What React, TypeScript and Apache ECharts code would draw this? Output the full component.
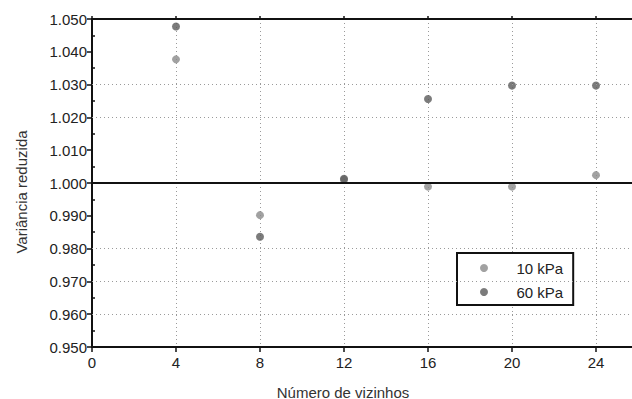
import React, { useEffect, useRef } from "react";
import * as echarts from "echarts";

const xValues = [4, 8, 12, 16, 20, 24];
const kpa10 = [1.0377, 0.9902, 1.001, 0.9989, 0.9989, 1.0024];
const kpa60 = [1.0477, 0.9836, 1.0013, 1.0256, 1.0297, 1.0297];
const seriesNames = ["10 kPa", "60 kPa"];
const dottedLevels = [1.03, 1.02, 0.98, 0.97, 0.96];
const referenceLevel = 1.0;
const xTitle = "Número de vizinhos";
const yTitle = "Variância reduzida";

const FONT = "'Liberation Sans', Arial, sans-serif";

export default function App() {
  const ref = useRef<HTMLDivElement>(null);
  useEffect(() => {
    if (!ref.current) return;
    const chart = echarts.init(ref.current, null, { renderer: "svg" });
    const pts = (ys: number[]) => xValues.map((x, i) => [x, ys[i]]);
    chart.setOption({
      animation: false,
      backgroundColor: "#ffffff",
      textStyle: { fontFamily: FONT },
      grid: {
        left: 92,
        top: 19,
        right: -48,
        bottom: 52,
        containLabel: false,
        outerBoundsMode: "none",
      },
      xAxis: [
        {
          type: "value",
          min: 0,
          max: 28,
          interval: 4,
          axisLine: { show: true, onZero: false, lineStyle: { color: "#111", width: 2 } },
          axisTick: { show: true, length: 5, lineStyle: { color: "#111", width: 1.5 } },
          axisLabel: {
            color: "#222",
            fontSize: 15,
            margin: 8,
            fontFamily: FONT,
            formatter: (v: number) => (v > 24 ? "" : String(v)),
          },
          splitLine: { show: true, lineStyle: { color: "#9a9a9a", type: [1, 3], width: 1 } },
        },
        {
          type: "value",
          position: "top",
          min: 0,
          max: 28,
          interval: 4,
          axisLine: { show: true, onZero: false, lineStyle: { color: "#111", width: 2 } },
          axisTick: { show: true, length: 3, lineStyle: { color: "#111", width: 1.5 } },
          axisLabel: { show: false },
          splitLine: { show: false },
        },
      ],
      yAxis: {
        type: "value",
        min: 0.95,
        max: 1.05,
        interval: 0.01,
        axisLine: { show: true, onZero: false, lineStyle: { color: "#111", width: 2 } },
        axisTick: { show: true, length: 5, lineStyle: { color: "#111", width: 1.5 } },
        minorTick: { show: true, splitNumber: 2, length: -3, lineStyle: { color: "#111", width: 1.5 } },
        axisLabel: {
          color: "#222",
          fontSize: 15,
          margin: 5,
          fontFamily: FONT,
          formatter: (v: number) => v.toFixed(3),
        },
        splitLine: { show: false },
      },
      legend: {
        data: seriesNames,
        orient: "vertical",
        left: 457,
        top: 253,
        backgroundColor: "#ffffff",
        borderColor: "#111",
        borderWidth: 2,
        borderRadius: 0,
        padding: [7, 10, 5, 23],
        itemWidth: 55,
        itemHeight: 8,
        itemGap: 8,
        icon: "circle",
        textStyle: { fontSize: 15, lineHeight: 16, color: "#222", fontFamily: FONT },
      },
      graphic: [
        {
          type: "text",
          x: 21,
          y: 192,
          rotation: Math.PI / 2,
          style: {
            text: yTitle,
            fill: "#333",
            font: `15px ${FONT}`,
            align: "center",
            verticalAlign: "middle",
          },
        },
        {
          type: "text",
          x: 343,
          y: 392,
          style: {
            text: xTitle,
            fill: "#333",
            font: `15px ${FONT}`,
            align: "center",
            verticalAlign: "middle",
          },
        },
      ],
      series: [
        {
          type: "scatter",
          name: "grid",
          data: [],
          silent: true,
          z: 1,
          markLine: {
            silent: true,
            symbol: "none",
            label: { show: false },
            data: [
              ...dottedLevels.map((v) => ({
                yAxis: v,
                lineStyle: { color: "#9a9a9a", type: [1, 3], width: 1 },
              })),
              { yAxis: referenceLevel, lineStyle: { color: "#111", type: "solid", width: 2 } },
            ],
          },
        },
        {
          type: "scatter",
          name: seriesNames[0],
          data: pts(kpa10),
          symbolSize: 8,
          itemStyle: { color: "#8a8a8a" },
          z: 3,
        },
        {
          type: "scatter",
          name: seriesNames[1],
          data: pts(kpa60),
          symbolSize: 8,
          itemStyle: { color: "#5a5a5a" },
          z: 3,
        },
      ],
    });
    return () => chart.dispose();
  }, []);
  return (
    <div
      ref={ref}
      style={{ position: "absolute", left: 0, top: 0, width: 632, height: 399 }}
    />
  );
}
